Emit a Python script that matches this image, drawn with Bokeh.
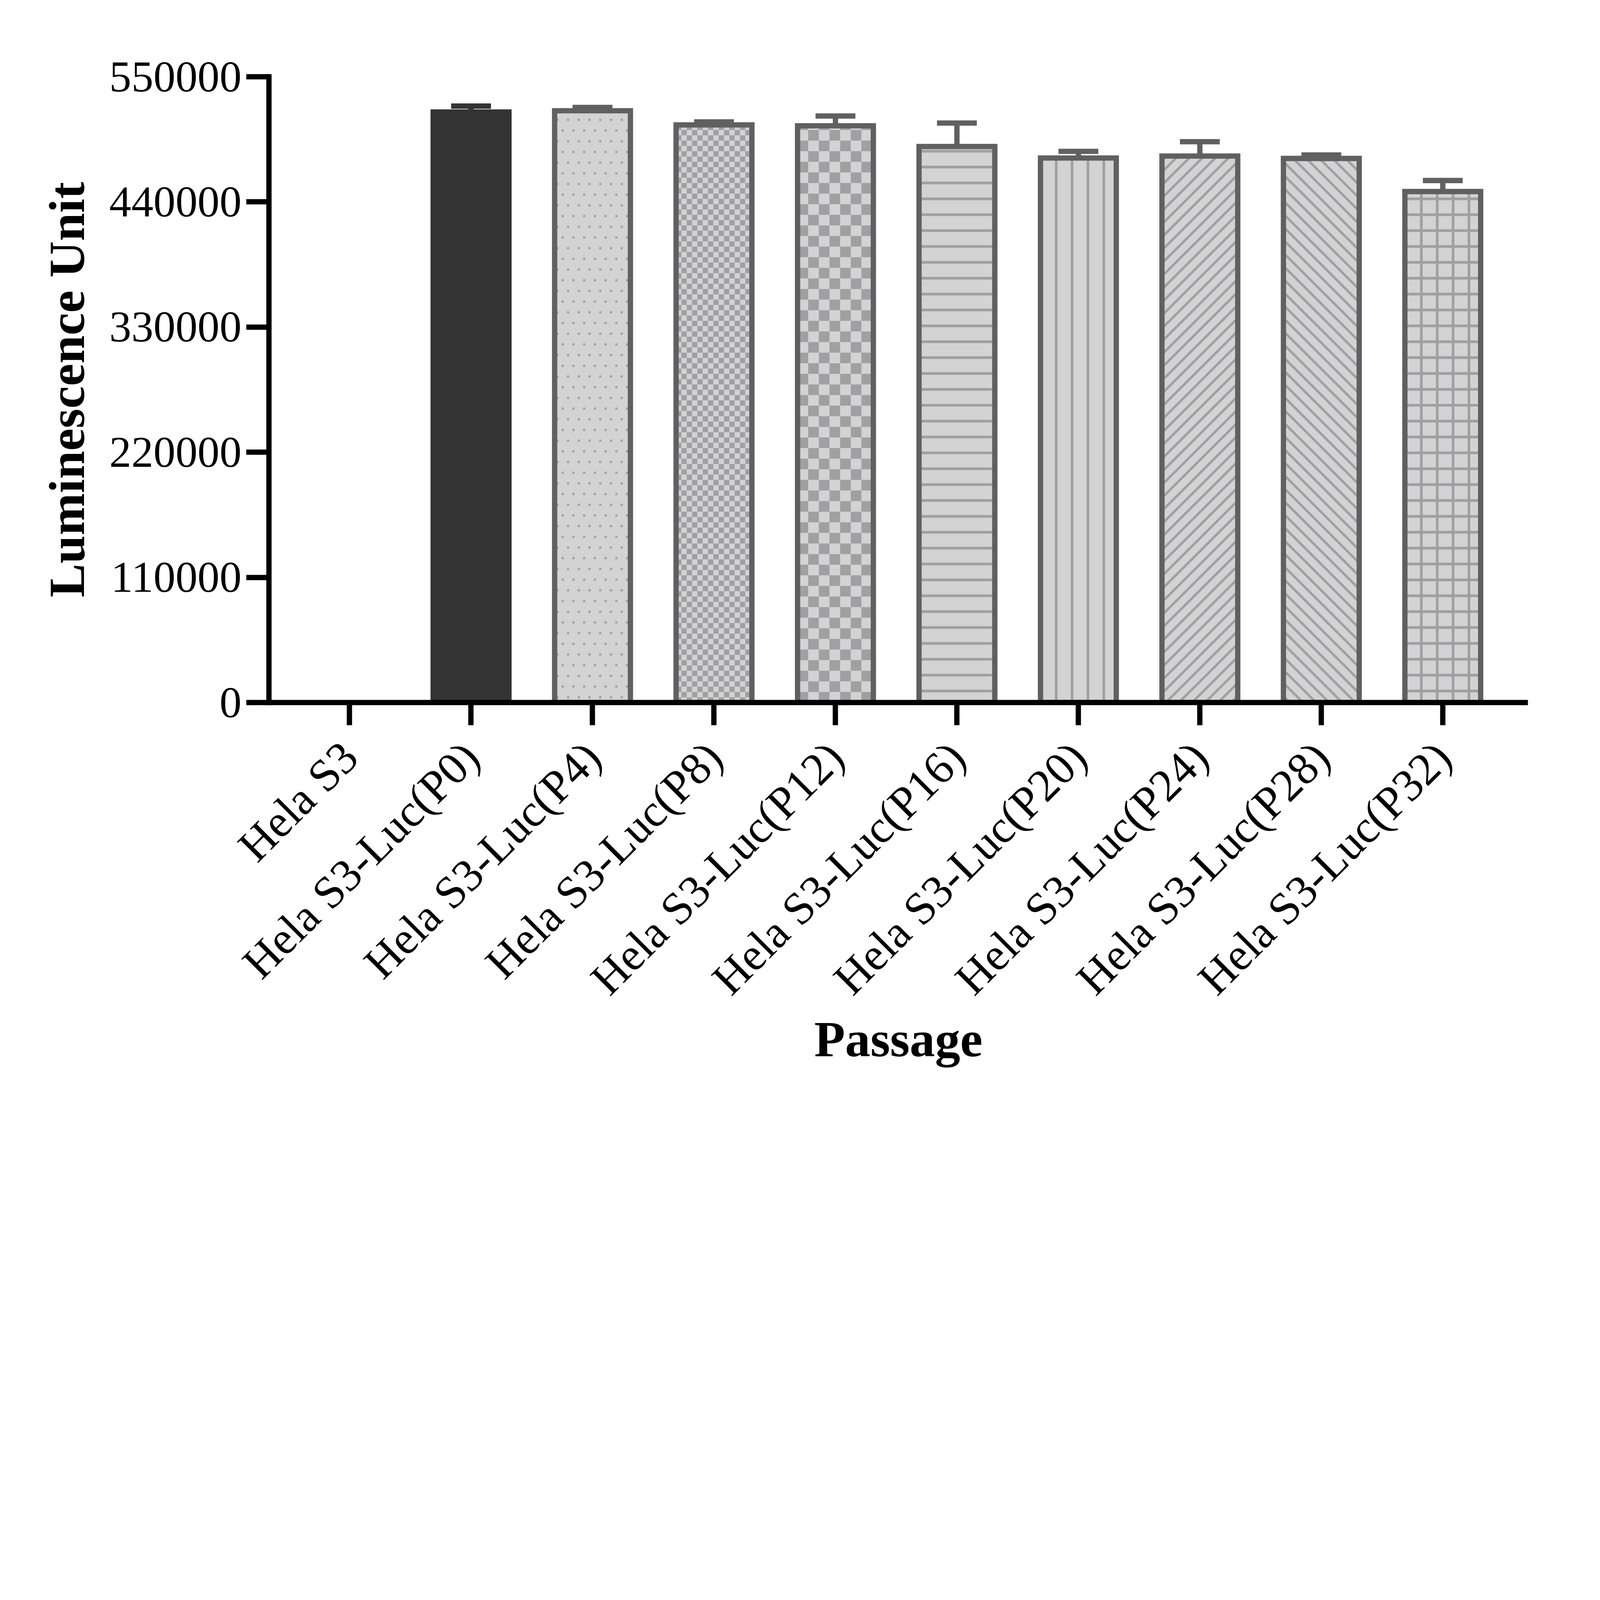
import math
from bokeh.plotting import figure
from bokeh.models import Range1d, FixedTicker, NumeralTickFormatter, ColumnDataSource
from bokeh.embed import file_html
from bokeh.resources import INLINE

# ---------------- data ----------------
categories = ["Hela S3", "Hela S3-Luc(P0)", "Hela S3-Luc(P4)", "Hela S3-Luc(P8)",
              "Hela S3-Luc(P12)", "Hela S3-Luc(P16)", "Hela S3-Luc(P20)",
              "Hela S3-Luc(P24)", "Hela S3-Luc(P28)", "Hela S3-Luc(P32)"]
values = [0, 519000, 520100, 507700, 506900, 488700, 478600, 480300, 478200, 449100]
errors = [0, 5200, 2900, 2600, 8600, 20600, 5800, 12600, 3000, 9700]
y_ticks = [0, 110000, 220000, 330000, 440000, 550000]

# ---------------- styles ----------------
DARK = "#333333"
EDGE = "#606060"
LIGHT = "#d3d3d3"
HATCH = "#a0a0a4"
FONT = "Liberation Serif"

# the browser window is narrower than the reference picture: scale the design
K = 0.5645


def px(v):
    return v * K


X0, X1 = -0.664, 9.701
Y0, Y1 = 0, 550000
FRAME_W_REF, FRAME_H_REF = 5679.0, 2833.0
XU = (X1 - X0) / FRAME_W_REF   # x data units per reference pixel
YU = (Y1 - Y0) / FRAME_H_REF   # y data units per reference pixel

styles = [
    dict(fill=LIGHT, line=EDGE, kind=None),
    dict(fill=DARK, line=DARK, kind=None),
    dict(fill=LIGHT, line=EDGE, kind="dots", size=48.4, weight=10),
    dict(fill=LIGHT, line=EDGE, kind="checker", size=24),
    dict(fill=LIGHT, line=EDGE, kind="checker", size=48),
    dict(fill=LIGHT, line=EDGE, kind="hatch", pattern="horizontal_line", size=72, weight=12),
    dict(fill=LIGHT, line=EDGE, kind="hatch", pattern="vertical_line", size=72, weight=12),
    dict(fill=LIGHT, line=EDGE, kind="diag", direction=1, size=59, weight=11),
    dict(fill=LIGHT, line=EDGE, kind="diag", direction=-1, size=59, weight=11),
    dict(fill=LIGHT, line=EDGE, kind="hatch", pattern="cross", size=72, weight=12),
]

W, H = 4072, 2811
p = figure(width=W, height=H,
           x_range=Range1d(X0, X1), y_range=Range1d(Y0, Y1),
           output_backend="svg", toolbar_location=None,
           min_border_left=688, min_border_right=161,
           min_border_top=196, min_border_bottom=1013)
p.xgrid.grid_line_color = None
p.ygrid.grid_line_color = None
p.outline_line_color = None
p.background_fill_color = "white"
p.border_fill_color = "white"

BAR_W = 0.624
LW = px(24)
CAP_HALF = 0.164

xs = list(range(len(categories)))
shown = [i for i in xs if values[i] > 0]

# bar fills (with built-in hatch where it matches)
for i in shown:
    st = styles[i]
    kw = dict(x=[xs[i]], top=[values[i]], bottom=0, width=BAR_W,
              fill_color=st["fill"], line_color=None)
    if st["kind"] == "hatch":
        kw.update(hatch_pattern=st["pattern"], hatch_color=HATCH,
                  hatch_scale=px(st["size"]), hatch_weight=px(st["weight"]))
    p.vbar(**kw)

# checkerboard, dotted and 45-degree textures, built from each bar's own extent
q_l, q_r, q_t, q_b = [], [], [], []
d_x, d_y = [], []
s_x0, s_x1, s_y0, s_y1 = [], [], [], []
diag_weight = px(11)
for i in shown:
    st = styles[i]
    left0, right0 = xs[i] - BAR_W / 2, xs[i] + BAR_W / 2
    top = values[i]
    if st["kind"] == "checker":
        cw, ch = st["size"] * XU, st["size"] * YU
        ncol = math.ceil(BAR_W / cw)
        nrow = math.ceil(top / ch)
        for r in range(nrow):
            for c in range(ncol):
                if (r + c) % 2:
                    continue
                l = left0 + c * cw
                b = r * ch
                q_l.append(l)
                q_r.append(min(l + cw, right0))
                q_b.append(b)
                q_t.append(min(b + ch, top))
    elif st["kind"] == "dots":
        gx, gy = st["size"] * XU, st["size"] * YU
        nrow = math.ceil(top / gy)
        for r in range(nrow):
            yv = (r + 0.5) * gy
            xv = left0 + gx / 4 + (r % 2) * gx / 2
            while xv < right0:
                d_x.append(xv)
                d_y.append(yv)
                xv += gx
    elif st["kind"] == "diag":
        wp = BAR_W / XU           # bar width in reference pixels
        hp = top / YU             # bar height in reference pixels
        step = st["size"]
        diag_weight = px(st["weight"])
        if st["direction"] > 0:   # "/" lines: y = x + c
            c = -wp + step / 2
            while c < hp:
                a = max(0.0, -c)
                b = min(wp, hp - c)
                if b > a:
                    s_x0.append(left0 + a * XU); s_y0.append((a + c) * YU)
                    s_x1.append(left0 + b * XU); s_y1.append((b + c) * YU)
                c += step
        else:                     # "\" lines: y = -x + c
            c = step / 2
            while c < hp + wp:
                a = max(0.0, c - hp)
                b = min(wp, c)
                if b > a:
                    s_x0.append(left0 + a * XU); s_y0.append((c - a) * YU)
                    s_x1.append(left0 + b * XU); s_y1.append((c - b) * YU)
                c += step

p.quad(left=q_l, right=q_r, top=q_t, bottom=q_b, fill_color=HATCH, line_color=None)
p.scatter(x=d_x, y=d_y, marker="square", size=px(10), fill_color=HATCH, line_color=None)
p.segment(x0=s_x0, y0=s_y0, x1=s_x1, y1=s_y1, line_color=HATCH,
          line_width=diag_weight, line_cap="butt")

# bar outlines
out_src = ColumnDataSource(dict(
    x=[xs[i] for i in shown],
    top=[values[i] for i in shown],
    color=[styles[i]["line"] for i in shown],
))
p.vbar(x="x", top="top", bottom=0, width=BAR_W, source=out_src,
       fill_color=None, line_color="color", line_width=LW, line_join="miter")

# error bars (upper only)
idx = [i for i in xs if errors[i] > 0]
err_src = ColumnDataSource(dict(
    x=[xs[i] for i in idx],
    y0=[values[i] for i in idx],
    y1=[values[i] + errors[i] for i in idx],
    cx0=[xs[i] - CAP_HALF for i in idx],
    cx1=[xs[i] + CAP_HALF for i in idx],
    color=[styles[i]["line"] for i in idx],
))
p.segment(x0="x", x1="x", y0="y0", y1="y1", source=err_src,
          line_color="color", line_width=LW, line_cap="butt")
p.segment(x0="cx0", x1="cx1", y0="y1", y1="y1", source=err_src,
          line_color="color", line_width=LW, line_cap="butt")

# ---------------- axes ----------------
for ax in (p.xaxis[0], p.yaxis[0]):
    ax.axis_line_color = "black"
    ax.axis_line_width = LW
    ax.major_tick_line_color = "black"
    ax.major_tick_line_width = LW
    ax.major_tick_out = round(px(103))
    ax.major_tick_in = 0
    ax.minor_tick_line_color = None
    ax.major_label_text_font = FONT
    ax.major_label_text_color = "black"
    ax.axis_label_text_font = FONT
    ax.axis_label_text_font_style = "bold"
    ax.axis_label_text_color = "black"

xa = p.xaxis[0]
xa.ticker = FixedTicker(ticks=xs)
xa.major_label_overrides = {i: c for i, c in zip(xs, categories)}
xa.major_label_orientation = 0.7853981634
xa.major_label_text_font_size = f"{px(208):.1f}px"
xa.major_label_standoff = round(px(110))
xa.axis_label = "Passage"
xa.axis_label_text_font_size = f"{px(229):.1f}px"
xa.axis_label_standoff = round(px(-55))

ya = p.yaxis[0]
ya.ticker = FixedTicker(ticks=y_ticks)
ya.formatter = NumeralTickFormatter(format="0")
ya.major_label_text_font_size = f"{px(200):.1f}px"
ya.major_label_standoff = round(px(22))
ya.axis_line_cap = "square"
ya.axis_label = "Luminescence Unit"
ya.axis_label_text_font_size = f"{px(230):.1f}px"
ya.axis_label_standoff = round(px(60))

open("out.html", "w").write(file_html(p, INLINE))
